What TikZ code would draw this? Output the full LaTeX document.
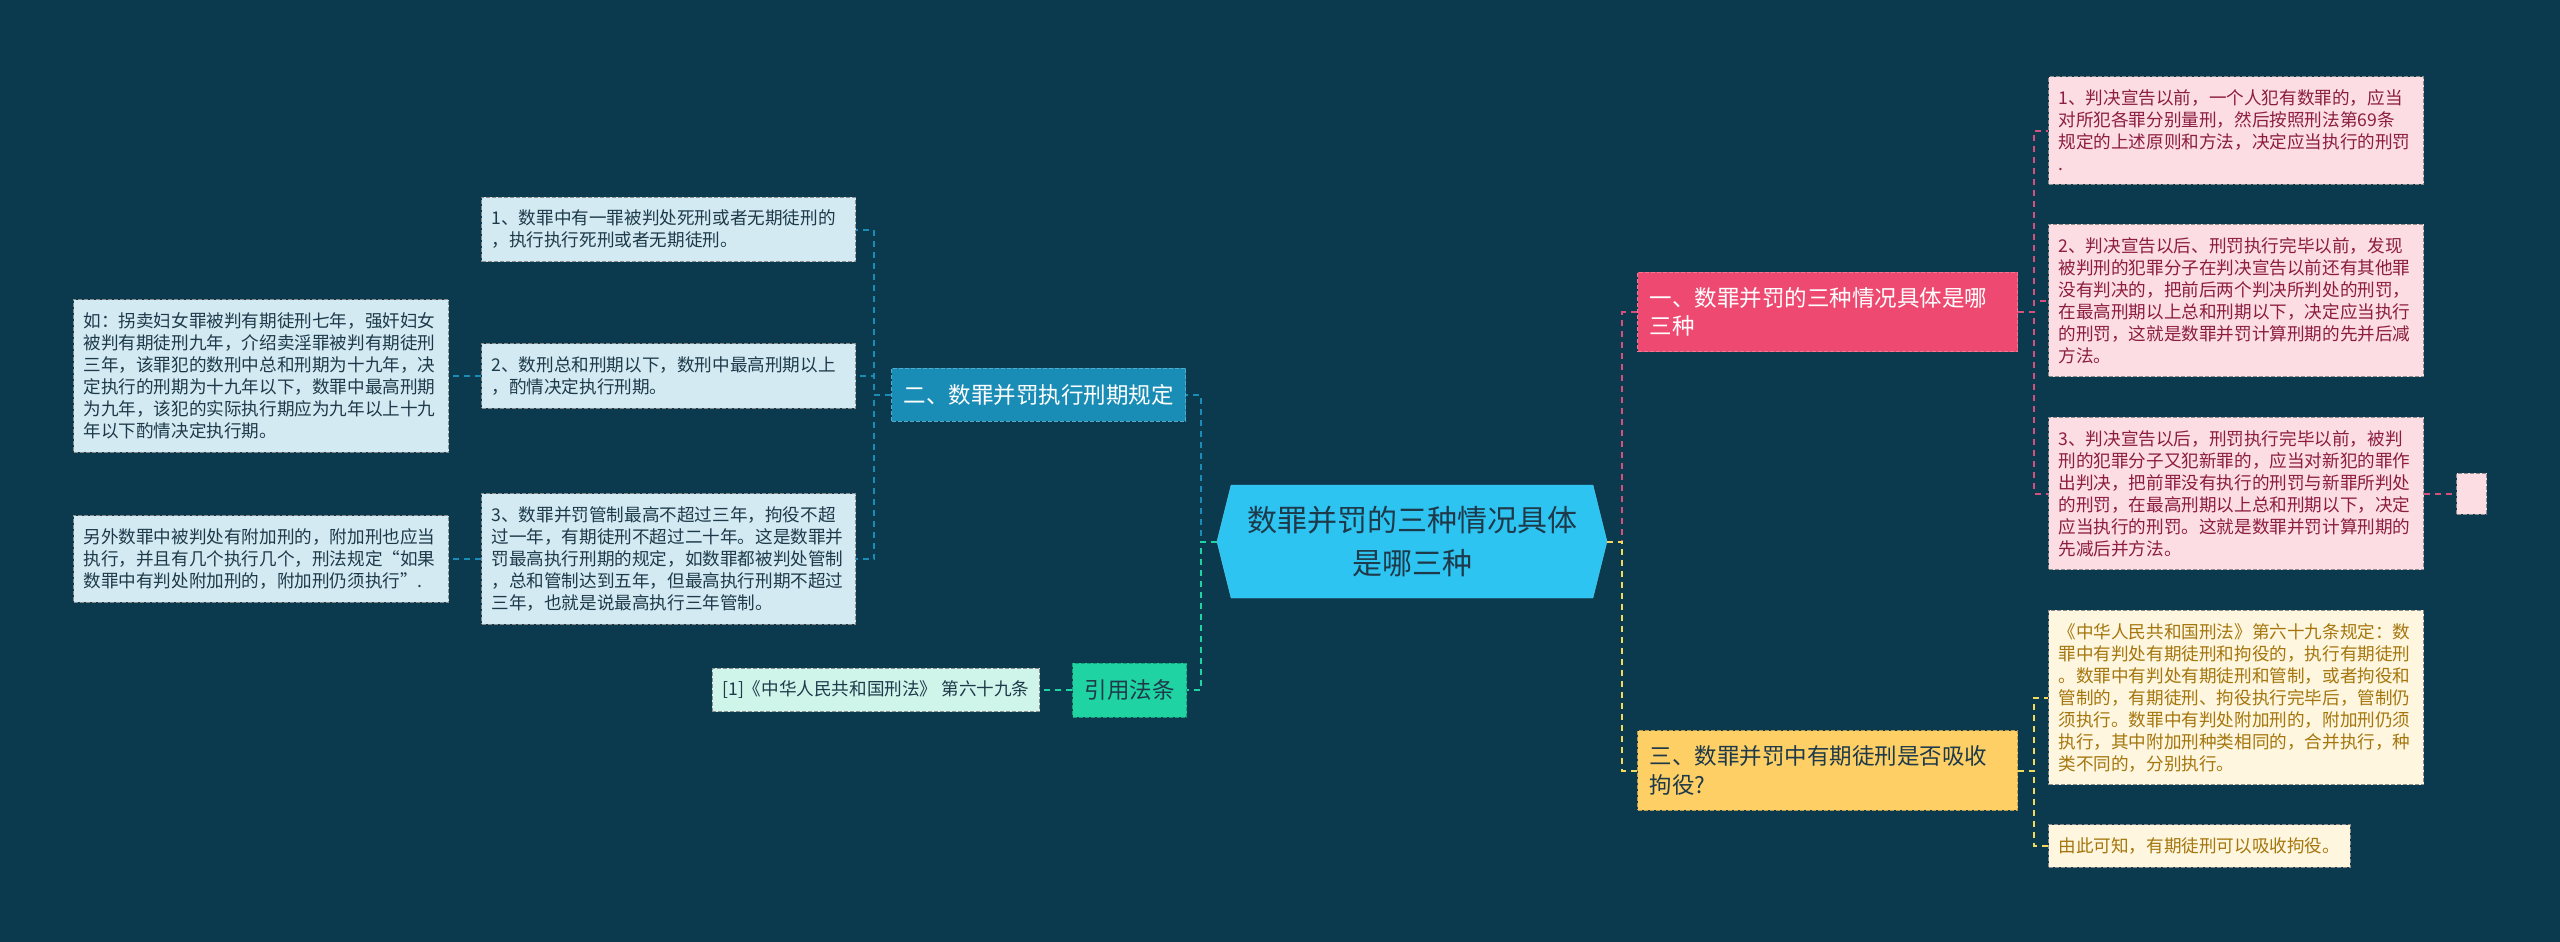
\documentclass[tikz,border=0pt]{standalone}
\usepackage{fontspec}
\setmainfont{Noto Sans CJK SC}
\usetikzlibrary{positioning,shapes.symbols}

\definecolor{bgc}{HTML}{0B3A4F}
\definecolor{rootc}{HTML}{2DC4F2}
\definecolor{pinkc}{HTML}{EE4A71}
\definecolor{yellowc}{HTML}{FDCF65}
\definecolor{bluec}{HTML}{1A8DB6}
\definecolor{greenc}{HTML}{1FD3A3}
\definecolor{pinkfill}{HTML}{FCDDE4}
\definecolor{yellowfill}{HTML}{FEF6DE}
\definecolor{bluefill}{HTML}{D3EAF2}
\definecolor{greenfill}{HTML}{CFF5EB}
\definecolor{pinktext}{HTML}{8C1D40}
\definecolor{yellowtext}{HTML}{A5760E}
\definecolor{darktext}{HTML}{1E3A4A}
\definecolor{pinkline}{HTML}{D4517D}
\definecolor{yellowline}{HTML}{F2DB5C}

\newcommand\rootfont{\fontsize{30pt}{43pt}\selectfont}
\newcommand\branchfont{\fontsize{22.5pt}{28.6pt}\selectfont}
\newcommand\leaffont{\fontsize{17.6pt}{22pt}\selectfont}

\begin{document}
\begin{tikzpicture}[
    x=1pt, y=-1pt,
    root/.style={signal, signal to=east and west, signal pointer angle=152, fill=rootc, draw=rootc!80!white, text=darktext, align=center, minimum width=390pt, minimum height=113pt, font=\rootfont},
    branch/.style={draw, dash pattern=on 4pt off 2pt, line width=1pt, align=left, inner xsep=12pt, inner ysep=15pt, font=\branchfont},
    leaf/.style={draw=black!45, dash pattern=on 4pt off 2pt, line width=1pt, align=left, inner xsep=10pt, inner ysep=13pt, font=\leaffont},
    leafp/.style={leaf, fill=pinkfill, text=pinktext},
    leafy/.style={leaf, fill=yellowfill, text=yellowtext},
    leafb/.style={leaf, fill=bluefill, text=darktext},
    leafg/.style={leaf, fill=greenfill, text=darktext},
    link/.style={line width=2pt, dash pattern=on 6pt off 5pt}
]
\fill[bgc] (0,0) rectangle (2560,942);
\useasboundingbox (0,0) rectangle (2560,942);

\node[root] (root) at (1412,541.5) {数罪并罚的三种情况具体\\是哪三种};

% right side
\node[branch, fill=pinkc, draw=pinkc!75!white, text=white, text width=356pt, anchor=west] (sit) at (1637,312) {一、数罪并罚的三种情况具体是哪\\三种};
\node[branch, fill=yellowc, draw=yellowc!75!black, text=darktext, text width=356pt, anchor=west] (absorb) at (1637,770.5) {三、数罪并罚中有期徒刑是否吸收\\拘役?};

\node[leafp, text width=355pt, anchor=west] (sit1) at (2048,130.5) {1、判决宣告以前，一个人犯有数罪的，应当\\对所犯各罪分别量刑，然后按照刑法第69条\\规定的上述原则和方法，决定应当执行的刑罚\\.};
\node[leafp, text width=355pt, anchor=west] (sit2) at (2048,300.5) {2、判决宣告以后、刑罚执行完毕以前，发现\\被判刑的犯罪分子在判决宣告以前还有其他罪\\没有判决的，把前后两个判决所判处的刑罚，\\在最高刑期以上总和刑期以下，决定应当执行\\的刑罚，这就是数罪并罚计算刑期的先并后减\\方法。};
\node[leafp, text width=355pt, anchor=west] (sit3) at (2048,493.5) {3、判决宣告以后，刑罚执行完毕以前，被判\\刑的犯罪分子又犯新罪的，应当对新犯的罪作\\出判决，把前罪没有执行的刑罚与新罪所判处\\的刑罚，在最高刑期以上总和刑期以下，决定\\应当执行的刑罚。这就是数罪并罚计算刑期的\\先减后并方法。};
\node[leafp, right=32pt of sit3, inner sep=0pt, minimum width=30pt, minimum height=41pt] (sit3a) {};

\node[leafy, text width=355pt, anchor=west] (abs1) at (2048,697.5) {《中华人民共和国刑法》第六十九条规定：数\\罪中有判处有期徒刑和拘役的，执行有期徒刑\\。数罪中有判处有期徒刑和管制，或者拘役和\\管制的，有期徒刑、拘役执行完毕后，管制仍\\须执行。数罪中有判处附加刑的，附加刑仍须\\执行，其中附加刑种类相同的，合并执行，种\\类不同的，分别执行。};
\node[leafy, anchor=west] (abs2) at (2048,846) {由此可知，有期徒刑可以吸收拘役。};

% left side
\node[branch, fill=bluec, draw=bluec!75!white, text=white, minimum height=53pt, anchor=east] (term) at (1186,394.5) {二、数罪并罚执行刑期规定};
\node[branch, fill=greenc, draw=greenc!75!black, text=darktext, minimum height=54pt, anchor=east] (cite) at (1187,690) {引用法条};

\node[leafb, text width=354pt, anchor=east] (term1) at (856,229.5) {1、数罪中有一罪被判处死刑或者无期徒刑的\\，执行执行死刑或者无期徒刑。};
\node[leafb, text width=354pt, anchor=east] (term2) at (856,376) {2、数刑总和刑期以下，数刑中最高刑期以上\\，酌情决定执行刑期。};
\node[leafb, text width=354pt, anchor=east] (term3) at (856,559) {3、数罪并罚管制最高不超过三年，拘役不超\\过一年，有期徒刑不超过二十年。这是数罪并\\罚最高执行刑期的规定，如数罪都被判处管制\\，总和管制达到五年，但最高执行刑期不超过\\三年，也就是说最高执行三年管制。};
\node[leafb, text width=355pt, left=32pt of term2] (ex1) {如：拐卖妇女罪被判有期徒刑七年，强奸妇女\\被判有期徒刑九年，介绍卖淫罪被判有期徒刑\\三年，该罪犯的数刑中总和刑期为十九年，决\\定执行的刑期为十九年以下，数罪中最高刑期\\为九年，该犯的实际执行期应为九年以上十九\\年以下酌情决定执行期。};
\node[leafb, text width=355pt, left=32pt of term3] (ex2) {另外数罪中被判处有附加刑的，附加刑也应当\\执行，并且有几个执行几个，刑法规定“如果\\数罪中有判处附加刑的，附加刑仍须执行”.};
\node[leafg, left=32pt of cite] (ref1) {[1]《中华人民共和国刑法》 第六十九条};

% connectors
\draw[link, draw=pinkline] (root.east) -- ++(15,0) |- (sit.west);
\draw[link, draw=yellowline] (root.east) -- ++(15,0) |- (absorb.west);
\draw[link, draw=bluec] (root.west) -- ++(-16,0) |- (term.east);
\draw[link, draw=greenc] (root.west) -- ++(-16,0) |- (cite.east);
\foreach \n in {sit1,sit2,sit3}
  \draw[link, draw=pinkline] (sit.east) -- ++(16,0) |- (\n.west);
\draw[link, draw=pinkline] (sit3) -- (sit3a);
\foreach \n in {abs1,abs2}
  \draw[link, draw=yellowline] (absorb.east) -- ++(16,0) |- (\n.west);
\foreach \n in {term1,term2,term3}
  \draw[link, draw=bluec] (term.west) -- ++(-17,0) |- (\n.east);
\draw[link, draw=bluec] (term2) -- (ex1);
\draw[link, draw=bluec] (term3) -- (ex2);
\draw[link, draw=greenc] (cite) -- (ref1);
\end{tikzpicture}
\end{document}
